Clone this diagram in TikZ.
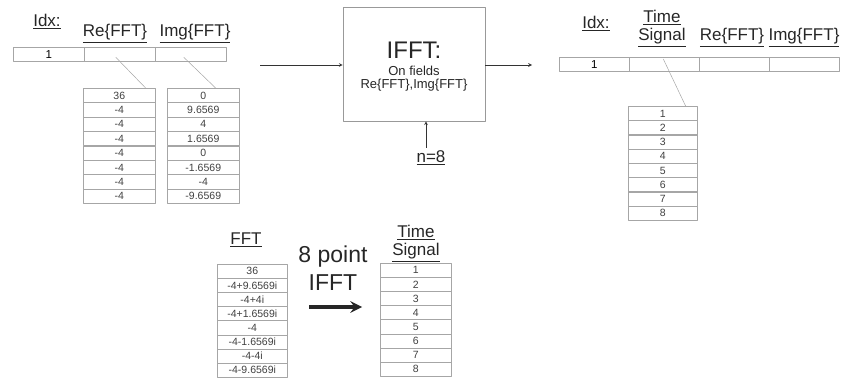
\documentclass[tikz,border=0pt]{standalone}
\usepackage{fontspec}
\setmainfont{Liberation Sans}
\usetikzlibrary{positioning}

\begin{document}
\begin{tikzpicture}[
        x=1pt, y=-1pt,
        line join=round,
        % 样式
        cell/.style={draw=gray!70, line width=0.6pt, minimum width=71pt,
                     minimum height=14.3pt, inner sep=0pt, anchor=north west,
                     font=\fontsize{10.5}{11}\selectfont, text=black!75},
        head/.style={font=\fontsize{17}{18}\selectfont, text=black!85, anchor=base, inner sep=0pt},
        link/.style={gray!70, line width=0.5pt},
        flow/.style={-stealth, line width=0.7pt, black!80},
    ]
    \useasboundingbox (0,0) rectangle (843,379);

    % 左上：输入记录
    \node[head] (idxL) at (47,27) {\underline{Idx:}};
    \node[head] (reL)  at (115,37) {\underline{Re\{FFT\}}};
    \node[head] (imL)  at (195,37) {\underline{Img\{FFT\}}};

    \node[cell, minimum height=14pt, text=black, font=\fontsize{11.5}{12}\selectfont] (hidx) at (13,47) {1};
    \node[cell, minimum height=14pt] (hre)  at (84,47) {};
    \node[cell, minimum height=14pt] (him)  at (155,47) {};

    \foreach \v [count=\i] in {36,-4,-4,-4,-4,-4,-4,-4}
        \node[cell, minimum width=72pt] (re\i) at (83,{88+(\i-1)*14.4}) {\v};
    \foreach \v [count=\i] in {0,9.6569,4,1.6569,0,-1.6569,-4,-9.6569}
        \node[cell, minimum width=72pt] (im\i) at (167,{88+(\i-1)*14.4}) {\v};

    \draw[link] ([shift={(-4,3)}]hre.center) -- ([xshift=-10pt]re1.north east);
    \draw[link] ([shift={(-7,3)}]him.center) -- ([xshift=-24pt]im1.north east);

    % 中间：IFFT 方框
    \node[draw=gray!80, line width=0.6pt, minimum width=142pt, minimum height=114pt,
          inner sep=0pt] (box) at (414,64) {};
    \node[font=\fontsize{24}{26}\selectfont, text=black!85, inner sep=0pt, anchor=base] (ifftT) at (414,59) {IFFT:};
    \node[font=\fontsize{13}{13}\selectfont, text=black!85, inner sep=0pt, anchor=base,
          align=center] (fields) at (414,88.5) {On fields\\Re\{FFT\},Img\{FFT\}};
    \node[font=\fontsize{17}{18}\selectfont, text=black!85, anchor=base] (n8) at (431,163) {\underline{n=8}};

    \coordinate (inL) at (260,65);
    \coordinate (outR) at (532,65);
    \draw[flow] (inL) -- (inL -| box.west);
    \draw[flow] (outR -| box.east) -- (outR);
    \draw[flow] ([xshift=-5pt]n8.north) -- ([xshift=-5pt]n8.north |- box.south);

    % 右上：输出记录
    \node[head] (idxR) at (596,29) {\underline{Idx:}};
    \node[head, align=center] (tsR) at (662,41) {\underline{Time}\\\underline{Signal}};
    \node[head] (reR)  at (732,41) {\underline{Re\{FFT\}}};
    \node[head] (imR)  at (804,41) {\underline{Img\{FFT\}}};

    \node[cell, minimum height=14pt, minimum width=70pt, text=black, font=\fontsize{11.5}{12}\selectfont] (ridx) at (559,57) {1};
    \node[cell, minimum height=14pt, minimum width=70pt] (rts) at (629,57) {};
    \node[cell, minimum height=14pt, minimum width=70pt] (rre) at (699,57) {};
    \node[cell, minimum height=14pt, minimum width=70pt] (rim) at (769,57) {};

    \foreach \v [count=\i] in {1,2,3,4,5,6,7,8}
        \node[cell, minimum width=69pt] (ts\i) at (628,{106+(\i-1)*14.25}) {\v};

    \draw[link] ([shift={(-1,2)}]rts.north) -- ([xshift=-12pt]ts1.north east);

    % 下方：复数形式
    \node[head] (fftL) at (246,245) {\underline{FFT}};
    \foreach \v [count=\i] in {36,-4+9.6569i,-4+4i,-4+1.6569i,-4,-4-1.6569i,-4-4i,-4-9.6569i}
        \node[cell, minimum width=70pt, minimum height=14.1pt] (fft\i) at (217,{264+(\i-1)*14.1}) {\v};

    \node[font=\fontsize{23}{24}\selectfont, text=black!85] (pt8) at (333,257) {8 point};
    \node[font=\fontsize{23}{24}\selectfont, text=black!85] (ptI) at (333,283) {IFFT};
    \coordinate (bigA) at (309,307);
    \coordinate (bigB) at (362,307);
    \draw[-stealth, line width=4pt, black!85] (bigA) -- (bigB);

    \node[head, align=center] (tsB) at (416,256) {\underline{Time}\\\underline{Signal}};
    \foreach \v [count=\i] in {1,2,3,4,5,6,7,8}
        \node[cell, minimum width=71pt, minimum height=14.1pt] (tb\i) at (380,{263+(\i-1)*14.1}) {\v};
\end{tikzpicture}
\end{document}
